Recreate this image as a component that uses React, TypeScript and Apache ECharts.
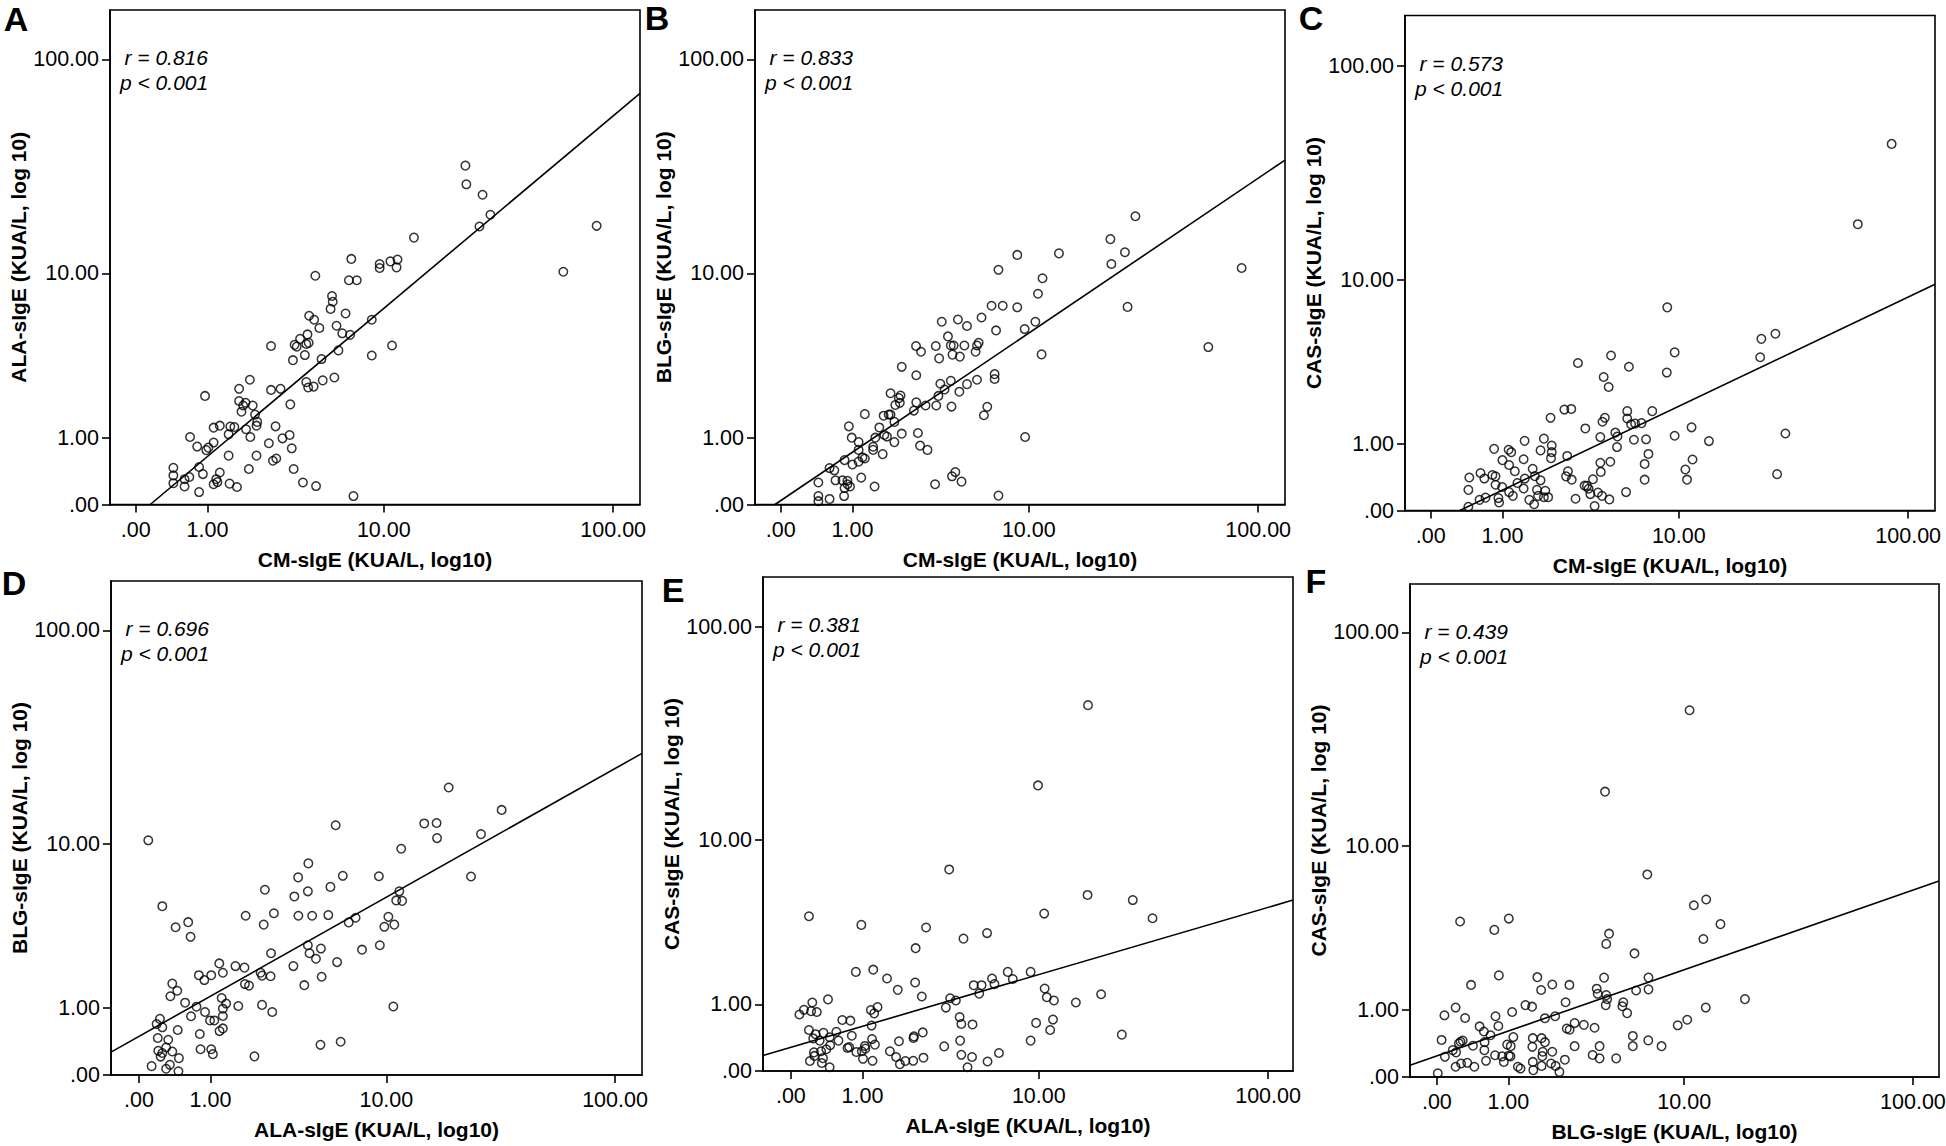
import React, { useEffect, useRef } from "react";
import * as echarts from "echarts";

// Axis ticks (KUA/L); the axes are drawn on a log10(value + 1) scale.
const tickValues = [0, 1, 10, 100];
const tickLabels = [".00", "1.00", "10.00", "100.00"];

const panelLetters = ["A", "B", "C", "D", "E", "F"];
const xTitles = [
  "CM-sIgE (KUA/L, log10)",
  "CM-sIgE (KUA/L, log10)",
  "CM-sIgE (KUA/L, log10)",
  "ALA-sIgE (KUA/L, log10)",
  "ALA-sIgE (KUA/L, log10)",
  "BLG-sIgE (KUA/L, log10)",
];
const yTitles = [
  "ALA-sIgE (KUA/L, log 10)",
  "BLG-sIgE (KUA/L, log 10)",
  "CAS-sIgE (KUA/L, log 10)",
  "BLG-sIgE (KUA/L, log 10)",
  "CAS-sIgE (KUA/L, log 10)",
  "CAS-sIgE (KUA/L, log 10)",
];
const rValues = ["0.816", "0.833", "0.573", "0.696", "0.381", "0.439"];
const pValues = ["0.001", "0.001", "0.001", "0.001", "0.001", "0.001"];

// axis extents in log10(value + 1) units
const xMin = [-0.108, -0.108, -0.108, -0.118, -0.117, -0.113];
const xMax = [2.117, 2.117, 2.117, 2.118, 2.109, 2.114];
const yMax = [2.227, 2.227, 2.232, 2.227, 2.228, 2.222];

// points, in log10(value + 1) units: [x, y]
const panelA = [
  [1.384,1.526],[1.388,1.442],[1.456,1.395],[1.489,1.305],[1.443,1.252],[1.935,1.255],[1.168,1.202],[1.795,1.048],[0.905,1.106],[1.024,1.083],[1.024,1.065],[1.069,1.095],[1.099,1.103],[1.095,1.068],[0.754,1.030],[0.895,1.010],[0.928,1.010],[0.824,0.939],[0.827,0.913],[0.818,0.881],[0.728,0.850],[0.749,0.832],[0.881,0.860],[0.991,0.832],[0.843,0.805],[0.771,0.795],[0.721,0.766],[0.867,0.771],[0.900,0.764],[0.690,0.746],[0.667,0.719],[0.676,0.711],[0.716,0.723],[0.726,0.728],[0.568,0.714],[1.076,0.716],[0.710,0.673],[0.851,0.694],[0.991,0.671],[0.780,0.655],[0.660,0.650],[0.834,0.572],[0.785,0.559],[0.716,0.551],[0.724,0.527],[0.747,0.531],[0.479,0.562],[0.434,0.521],[0.568,0.516],[0.608,0.521],[0.291,0.489],[0.434,0.466],[0.461,0.458],[0.451,0.446],[0.491,0.446],[0.444,0.418],[0.649,0.451],[0.501,0.405],[0.510,0.372],[0.507,0.355],[0.463,0.339],[0.414,0.349],[0.397,0.351],[0.353,0.355],[0.327,0.346],[0.390,0.316],[0.481,0.304],[0.587,0.352],[0.646,0.313],[0.616,0.298],[0.228,0.304],[0.559,0.276],[0.327,0.279],[0.258,0.261],[0.296,0.245],[0.305,0.256],[0.655,0.253],[0.390,0.220],[0.507,0.220],[0.576,0.197],[0.590,0.207],[0.158,0.165],[0.158,0.131],[0.158,0.096],[0.205,0.081],[0.205,0.114],[0.225,0.124],[0.266,0.169],[0.282,0.137],[0.266,0.056],[0.327,0.091],[0.338,0.114],[0.343,0.101],[0.353,0.144],[0.394,0.094],[0.425,0.079],[0.475,0.160],[0.663,0.160],[0.702,0.099],[0.757,0.083],[0.914,0.038],
];
const panelB = [
  [1.489,1.298],[1.384,1.195],[1.445,1.136],[1.388,1.083],[0.993,1.124],[1.168,1.131],[0.914,1.057],[1.935,1.065],[1.099,1.019],[1.080,0.949],[0.885,0.895],[0.932,0.895],[0.993,0.888],[1.456,0.890],[0.676,0.823],[0.744,0.833],[0.782,0.804],[0.843,0.842],[1.069,0.823],[0.904,0.784],[1.024,0.790],[0.702,0.757],[0.568,0.714],[0.651,0.714],[0.714,0.716],[0.726,0.716],[0.771,0.716],[0.824,0.716],[0.831,0.728],[0.818,0.688],[0.589,0.688],[1.795,0.709],[0.665,0.658],[0.721,0.675],[0.752,0.666],[1.095,0.676],[0.508,0.620],[0.569,0.582],[0.898,0.587],[0.898,0.565],[0.824,0.562],[0.714,0.557],[0.670,0.544],[0.782,0.542],[0.688,0.518],[0.750,0.508],[0.662,0.489],[0.461,0.501],[0.503,0.491],[0.496,0.479],[0.481,0.448],[0.500,0.458],[0.569,0.460],[0.608,0.446],[0.653,0.446],[0.717,0.441],[0.867,0.440],[0.853,0.402],[0.559,0.423],[0.353,0.407],[0.432,0.400],[0.453,0.405],[0.461,0.405],[0.477,0.372],[0.286,0.352],[0.414,0.347],[0.435,0.313],[0.446,0.306],[0.508,0.319],[0.576,0.322],[0.397,0.301],[0.298,0.301],[0.327,0.281],[0.477,0.281],[0.388,0.260],[0.388,0.246],[0.585,0.265],[0.616,0.246],[0.428,0.227],[1.026,0.304],[0.327,0.246],[0.353,0.207],[0.343,0.212],[0.327,0.193],[0.268,0.200],[0.301,0.180],[0.205,0.164],[0.225,0.154],[0.158,0.099],[0.230,0.109],[0.259,0.109],[0.280,0.107],[0.280,0.091],[0.268,0.074],[0.291,0.081],[0.338,0.121],[0.394,0.081],[0.158,0.038],[0.158,0.015],[0.205,0.025],[0.266,0.038],[0.648,0.091],[0.719,0.127],[0.733,0.146],[0.759,0.103],[0.914,0.040],
];
const panelC = [
  [1.935,1.653],[1.793,1.291],[0.993,0.916],[1.447,0.797],[1.388,0.774],[1.383,0.691],[1.024,0.713],[0.757,0.699],[0.618,0.665],[0.832,0.648],[0.991,0.622],[0.726,0.602],[0.747,0.557],[0.561,0.455],[0.590,0.458],[0.825,0.448],[0.930,0.448],[0.503,0.418],[0.731,0.418],[0.721,0.400],[0.825,0.415],[0.841,0.389],[0.858,0.392],[0.885,0.394],[0.649,0.370],[1.095,0.375],[1.489,0.347],[0.775,0.351],[0.784,0.334],[0.712,0.331],[1.024,0.337],[0.853,0.319],[0.904,0.321],[1.168,0.313],[0.394,0.314],[0.475,0.324],[0.508,0.293],[0.461,0.271],[0.508,0.263],[0.505,0.236],[0.266,0.278],[0.327,0.274],[0.338,0.263],[0.782,0.286],[0.914,0.255],[0.573,0.246],[0.301,0.227],[0.390,0.231],[0.712,0.215],[0.754,0.220],[1.099,0.230],[0.898,0.210],[0.329,0.205],[0.428,0.188],[0.353,0.177],[0.576,0.177],[0.714,0.174],[1.069,0.185],[1.454,0.164],[0.209,0.169],[0.162,0.149],[0.259,0.160],[0.272,0.154],[0.225,0.144],[0.437,0.155],[0.395,0.144],[0.461,0.136],[0.568,0.154],[0.592,0.139],[0.681,0.141],[0.898,0.139],[1.076,0.139],[0.364,0.124],[0.272,0.116],[0.300,0.106],[0.158,0.093],[0.390,0.099],[0.446,0.093],[0.481,0.089],[0.646,0.112],[0.656,0.111],[0.663,0.098],[0.670,0.074],[0.702,0.081],[0.719,0.066],[0.820,0.083],[0.329,0.083],[0.230,0.058],[0.205,0.048],[0.284,0.056],[0.287,0.036],[0.345,0.066],[0.414,0.048],[0.434,0.028],[0.451,0.066],[0.475,0.060],[0.493,0.060],[0.608,0.053],[0.750,0.050],[0.688,0.020],[0.158,0.017],
];
const panelD = [
  [0.039,1.058],[1.304,1.296],[1.527,1.195],[0.828,1.126],[1.201,1.134],[1.253,1.136],[1.255,1.068],[1.440,1.086],[1.104,1.020],[0.713,0.954],[0.670,0.891],[0.858,0.898],[1.010,0.896],[1.398,0.895],[0.530,0.835],[0.711,0.828],[0.654,0.805],[0.806,0.848],[1.096,0.828],[1.083,0.787],[1.108,0.785],[0.098,0.761],[0.449,0.718],[0.568,0.729],[0.671,0.718],[0.729,0.718],[0.797,0.721],[0.912,0.709],[0.883,0.688],[1.050,0.713],[1.033,0.668],[1.075,0.678],[0.525,0.678],[0.207,0.689],[0.154,0.666],[0.217,0.623],[1.014,0.585],[0.711,0.585],[0.766,0.570],[0.939,0.565],[0.718,0.549],[0.745,0.524],[0.556,0.549],[0.338,0.503],[0.406,0.491],[0.444,0.484],[0.650,0.491],[0.834,0.509],[0.353,0.461],[0.512,0.461],[0.518,0.448],[0.554,0.445],[0.769,0.443],[0.252,0.450],[0.275,0.428],[0.304,0.450],[0.446,0.410],[0.463,0.403],[0.696,0.405],[0.140,0.412],[0.161,0.380],[0.132,0.355],[0.348,0.347],[0.367,0.322],[0.353,0.299],[0.353,0.266],[0.194,0.326],[0.242,0.308],[0.418,0.311],[0.518,0.316],[0.561,0.284],[1.071,0.309],[0.278,0.284],[0.219,0.265],[0.299,0.246],[0.317,0.246],[0.088,0.253],[0.074,0.230],[0.098,0.215],[0.163,0.203],[0.339,0.198],[0.353,0.210],[0.079,0.167],[0.123,0.159],[0.256,0.185],[0.259,0.116],[0.304,0.116],[0.311,0.094],[0.081,0.109],[0.098,0.099],[0.091,0.083],[0.114,0.124],[0.140,0.106],[0.168,0.076],[0.486,0.084],[0.764,0.136],[0.849,0.150],[0.053,0.040],[0.114,0.028],[0.130,0.046],[0.166,0.017],
];
const panelE = [
  [1.248,1.650],[1.038,1.288],[0.665,0.909],[1.246,0.794],[1.436,0.771],[1.064,0.710],[1.519,0.689],[0.076,0.698],[0.296,0.659],[0.568,0.647],[0.824,0.622],[0.725,0.597],[0.524,0.554],[0.273,0.447],[0.346,0.457],[0.911,0.447],[1.007,0.447],[0.404,0.417],[0.845,0.417],[0.932,0.415],[0.768,0.387],[0.801,0.387],[0.855,0.392],[0.522,0.399],[0.449,0.366],[1.066,0.372],[0.791,0.349],[1.303,0.346],[0.550,0.336],[0.669,0.328],[0.693,0.318],[1.075,0.333],[1.105,0.318],[1.197,0.309],[0.156,0.323],[0.090,0.309],[0.055,0.276],[0.036,0.255],[0.085,0.270],[0.109,0.266],[0.336,0.275],[0.364,0.288],[0.350,0.260],[0.651,0.286],[0.216,0.230],[0.250,0.227],[0.709,0.243],[0.716,0.212],[0.763,0.210],[1.030,0.217],[1.101,0.232],[1.089,0.185],[0.339,0.205],[0.076,0.185],[0.104,0.166],[0.137,0.172],[0.191,0.177],[0.163,0.152],[0.094,0.147],[0.121,0.137],[0.200,0.137],[0.256,0.159],[0.341,0.144],[0.353,0.119],[0.454,0.134],[0.515,0.149],[0.517,0.156],[0.554,0.174],[0.711,0.137],[1.007,0.137],[1.390,0.164],[0.165,0.116],[0.238,0.104],[0.245,0.108],[0.275,0.086],[0.298,0.089],[0.311,0.113],[0.313,0.101],[0.644,0.111],[0.097,0.084],[0.127,0.089],[0.149,0.098],[0.099,0.068],[0.135,0.058],[0.080,0.045],[0.130,0.036],[0.163,0.017],[0.303,0.055],[0.343,0.046],[0.416,0.089],[0.442,0.063],[0.458,0.031],[0.481,0.045],[0.514,0.046],[0.557,0.060],[0.716,0.073],[0.761,0.063],[0.742,0.017],[0.826,0.043],[0.874,0.081],
];
const panelF = [
  [1.064,1.653],[0.708,1.286],[0.886,0.913],[1.134,0.800],[1.082,0.774],[1.194,0.689],[0.098,0.701],[0.303,0.714],[0.242,0.663],[0.725,0.646],[0.713,0.600],[1.122,0.622],[0.832,0.557],[0.261,0.458],[0.423,0.450],[0.704,0.448],[0.891,0.448],[0.144,0.415],[0.486,0.417],[0.558,0.415],[0.673,0.398],[0.439,0.392],[0.839,0.390],[0.891,0.395],[0.677,0.375],[0.713,0.369],[0.717,0.351],[1.297,0.351],[0.542,0.337],[0.785,0.337],[0.781,0.319],[0.711,0.324],[0.373,0.324],[0.401,0.317],[0.079,0.313],[1.132,0.313],[0.317,0.293],[0.032,0.278],[0.119,0.266],[0.247,0.274],[0.498,0.274],[0.455,0.265],[0.801,0.288],[1.054,0.258],[0.180,0.228],[0.259,0.230],[0.547,0.218],[0.559,0.213],[0.580,0.243],[0.619,0.235],[0.664,0.222],[1.014,0.233],[0.198,0.205],[0.226,0.188],[0.020,0.167],[0.100,0.159],[0.109,0.164],[0.093,0.152],[0.067,0.121],[0.081,0.111],[0.152,0.141],[0.201,0.157],[0.200,0.121],[0.322,0.180],[0.296,0.146],[0.311,0.139],[0.404,0.175],[0.441,0.175],[0.455,0.157],[0.402,0.136],[0.446,0.114],[0.486,0.114],[0.580,0.139],[0.685,0.139],[0.825,0.185],[0.825,0.139],[0.890,0.165],[0.946,0.139],[0.034,0.091],[0.245,0.098],[0.275,0.093],[0.303,0.096],[0.310,0.093],[0.282,0.068],[0.207,0.073],[0.079,0.046],[0.102,0.061],[0.128,0.064],[0.158,0.046],[0.341,0.046],[0.352,0.038],[0.404,0.068],[0.406,0.031],[0.444,0.094],[0.441,0.050],[0.481,0.061],[0.500,0.050],[0.516,0.023],[0.539,0.078],[0.656,0.099],[0.685,0.084],[0.755,0.084],[0.004,0.017],
];

// fit line end points (log10 units)
const fitA = [[0.061, 0], [2.117, 1.852]];
const fitB = [[-0.024, 0], [2.117, 1.551]];
const fitC = [[0.122, 0], [2.117, 1.02]];
const fitD = [[-0.118, 0.103], [2.118, 1.45]];
const fitE = [[-0.117, 0.07], [2.109, 0.771]];
const fitF = [[-0.113, 0.053], [2.114, 0.883]];

const panels = [panelA, panelB, panelC, panelD, panelE, panelF];
const fits = [fitA, fitB, fitC, fitD, fitE, fitF];

// layout (pixels)
const grids = [
  { left: 110, top: 10, width: 530, height: 494.5 },
  { left: 755, top: 10, width: 530, height: 494.5 },
  { left: 1405, top: 15.5, width: 530, height: 495 },
  { left: 111, top: 581, width: 531, height: 494 },
  { left: 763, top: 577, width: 530, height: 494 },
  { left: 1410, top: 584, width: 529, height: 493 },
];
const letterPos = [
  [16, 19], [657, 18], [1311, 18], [14, 583], [673, 590], [1316, 581],
];

const FONT = '"Liberation Sans", Arial, Helvetica, sans-serif';

export default function App() {
  const ref = useRef<HTMLDivElement>(null);

  useEffect(() => {
    if (!ref.current) return;
    const chart = echarts.init(ref.current, undefined, { renderer: "svg" });
    const tickPos = tickValues.map((v) => Math.log10(v + 1));
    const fmt = (val: number) => {
      const i = tickPos.findIndex((p) => Math.abs(p - val) < 1e-6);
      return i >= 0 ? tickLabels[i] : "";
    };
    const line = { color: "#000", width: 1.6 };

    const gridOpt = grids.map((g) => ({
      left: g.left,
      top: g.top,
      width: g.width,
      height: g.height,
      show: true,
      borderColor: "#000",
      borderWidth: 1.6,
      backgroundColor: "transparent",
      containLabel: false,
      outerBoundsMode: "none",
    }));

    const xAxes = grids.map((_, i) => ({
      type: "value",
      gridIndex: i,
      min: xMin[i],
      max: xMax[i],
      axisLine: { show: true, onZero: false, lineStyle: line },
      axisTick: { show: true, customValues: tickPos, length: 8, lineStyle: line },
      axisLabel: {
        customValues: tickPos,
        formatter: fmt,
        fontSize: 21.5,
        color: "#000",
        margin: 14,
        fontFamily: FONT,
      },
      splitLine: { show: false },
      name: xTitles[i],
      nameLocation: "middle",
      nameGap: 44,
      nameTextStyle: { fontSize: 21, fontWeight: "bold", color: "#000", fontFamily: FONT },
    }));

    const yAxes = grids.map((_, i) => ({
      type: "value",
      gridIndex: i,
      min: 0,
      max: yMax[i],
      axisLine: { show: true, onZero: false, lineStyle: line },
      axisTick: { show: true, customValues: tickPos, length: 8, lineStyle: line },
      axisLabel: {
        customValues: tickPos,
        formatter: fmt,
        fontSize: 21.5,
        color: "#000",
        margin: 11,
        fontFamily: FONT,
      },
      splitLine: { show: false },
      name: yTitles[i],
      nameLocation: "middle",
      nameRotate: 90,
      nameGap: 78,
      nameTextStyle: { fontSize: 21, fontWeight: "bold", color: "#000", fontFamily: FONT },
    }));

    const series: any[] = [];
    panels.forEach((pts, i) => {
      series.push({
        type: "scatter",
        xAxisIndex: i,
        yAxisIndex: i,
        data: pts,
        symbol: "circle",
        symbolSize: 8.5,
        itemStyle: { color: "rgba(255,255,255,0)", borderColor: "#000", borderWidth: 1.5 },
        silent: true,
      });
      series.push({
        type: "line",
        xAxisIndex: i,
        yAxisIndex: i,
        data: fits[i],
        symbol: "none",
        lineStyle: { color: "#000", width: 1.6 },
        silent: true,
      });
    });

    const graphic: any[] = [];
    grids.forEach((g, i) => {
      graphic.push({
        type: "text",
        x: letterPos[i][0],
        y: letterPos[i][1],
        style: {
          text: panelLetters[i],
          fill: "#000",
          fontSize: 34,
          fontWeight: "bold",
          fontFamily: FONT,
          textAlign: "center",
          textVerticalAlign: "middle",
        },
      });
      graphic.push({
        type: "text",
        x: g.left + 14.5,
        y: g.top + 47.5,
        style: {
          text: "r = " + rValues[i],
          fill: "#000",
          fontSize: 21,
          fontStyle: "italic",
          fontFamily: FONT,
          textAlign: "left",
          textVerticalAlign: "middle",
        },
      });
      graphic.push({
        type: "text",
        x: g.left + 10,
        y: g.top + 72.5,
        style: {
          text: "p < " + pValues[i],
          fill: "#000",
          fontSize: 21,
          fontStyle: "italic",
          fontFamily: FONT,
          textAlign: "left",
          textVerticalAlign: "middle",
        },
      });
    });

    chart.setOption({
      animation: false,
      backgroundColor: "#fff",
      grid: gridOpt,
      xAxis: xAxes,
      yAxis: yAxes,
      series,
      graphic,
    });
    return () => chart.dispose();
  }, []);

  return (
    <div
      ref={ref}
      style={{ position: "absolute", left: 0, top: 0, width: 1946, height: 1146, background: "#fff" }}
    />
  );
}
